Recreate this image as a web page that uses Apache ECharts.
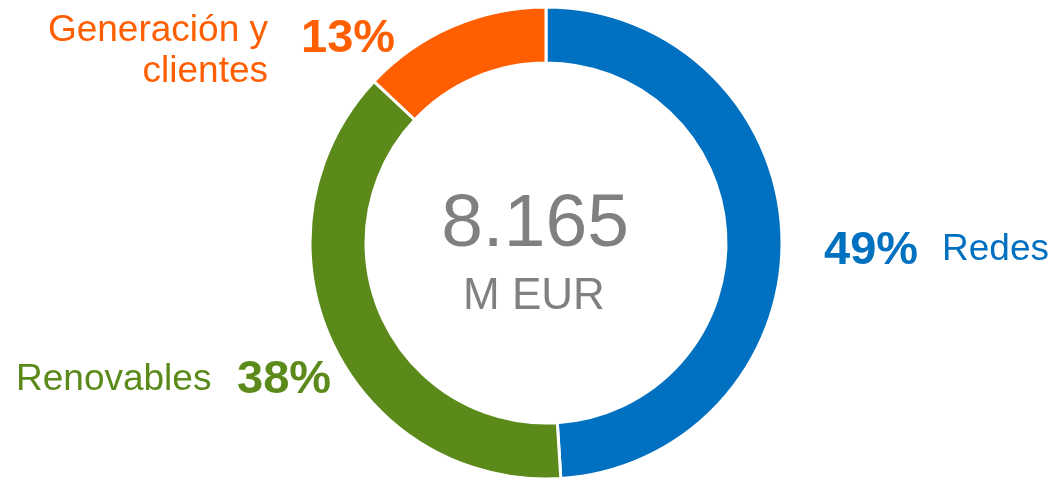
<!DOCTYPE html>
<html>
<head>
<meta charset="utf-8">
<script src="https://cdn.jsdelivr.net/npm/echarts@6/dist/echarts.min.js"></script>
<style>
  html, body { margin: 0; padding: 0; background: #fff; }
  #chart { width: 1054px; height: 481px; }
</style>
</head>
<body>
<div id="chart"></div>
<script>
// segments, clockwise from 12 o'clock
const segmentNames = ['Redes', 'Renovables', 'Generación y\nclientes'];
const segmentShares = [49, 38, 13];
const segmentColors = ['#0070c0', '#5b8a1b', '#ff5f00'];
const totalValue = '8.165';
const totalUnit = 'M EUR';

const font = '"Liberation Sans", Arial, sans-serif';
const chart = echarts.init(document.getElementById('chart'));

const pct = i => segmentShares[i] + '%';

const txt = (text, x, y, size, color, align, bold) => ({
  type: 'text',
  x: x,
  y: y,
  style: {
    text: text,
    fill: color,
    font: (bold ? 'bold ' : '') + size + 'px ' + font,
    textAlign: align,
    textVerticalAlign: 'middle',
    lineHeight: 41
  }
});

const option = {
  animation: false,
  series: [
    {
      type: 'pie',
      center: [546, 243],
      radius: [180, 236],
      startAngle: 90,
      clockwise: true,
      silent: true,
      label: { show: false },
      labelLine: { show: false },
      itemStyle: { borderColor: '#fff', borderWidth: 3 },
      data: segmentNames.map((n, i) => ({
        name: n,
        value: segmentShares[i],
        itemStyle: { color: segmentColors[i] }
      }))
    }
  ],
  graphic: [
    // centre
    txt(totalValue, 535, 225, 75, '#808080', 'center', false),
    txt(totalUnit, 534, 297, 44, '#808080', 'center', false),
    // Redes
    txt(pct(0), 824, 251, 47, segmentColors[0], 'left', true),
    txt(segmentNames[0], 942, 250, 37, segmentColors[0], 'left', false),
    // Renovables
    txt(segmentNames[1], 16, 380, 37, segmentColors[1], 'left', false),
    txt(pct(1), 237, 380, 47, segmentColors[1], 'left', true),
    // Generación y clientes
    txt(segmentNames[2], 268, 51, 37, segmentColors[2], 'right', false),
    txt(pct(2), 301, 39, 47, segmentColors[2], 'left', true)
  ]
};

chart.setOption(option);
</script>
</body>
</html>
